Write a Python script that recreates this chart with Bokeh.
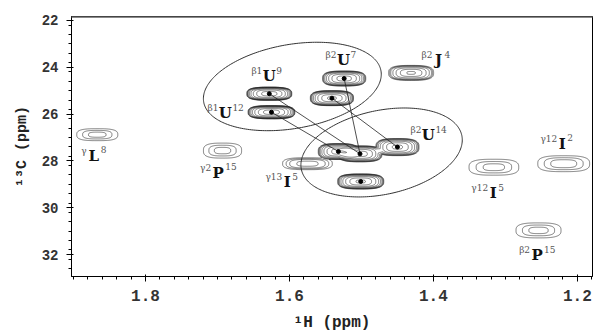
import numpy as np
from bokeh.plotting import figure
from bokeh.models import Range1d, Span, FixedTicker
from bokeh.core.properties import value
from bokeh.embed import file_html
from bokeh.resources import INLINE

# ---------------- data ----------------
# cross peaks: 1H shift (ppm), 13C shift (ppm), relative intensity, base-contour widths (ppm)
peak_h = [1.867, 1.693, 1.628, 1.625, 1.524, 1.541, 1.431, 1.450, 1.532, 1.502, 1.501, 1.575, 1.316, 1.219, 1.254]
peak_c = [26.88, 27.56, 25.13, 25.92, 24.48, 25.32, 24.24, 27.41, 27.60, 27.70, 28.88, 28.12, 28.27, 28.12, 30.97]
peak_int = [4.5, 4.5, 60, 60, 40, 50, 22, 35, 40, 40, 50, 8, 4.5, 5, 4.5]
peak_wh = [0.057, 0.053, 0.0625, 0.065, 0.060, 0.060, 0.0625, 0.060, 0.056, 0.061, 0.064, 0.069, 0.069, 0.072, 0.0625]
peak_wc = [0.51, 0.64, 0.56, 0.56, 0.64, 0.64, 0.64, 0.73, 0.68, 0.68, 0.64, 0.51, 0.68, 0.68, 0.64]

# connectivity lines (indices into the peak list)
link_from = [3, 2, 4, 5]
link_to = [8, 9, 9, 7]

# assignment labels
label_main = ["L", "P", "U", "U", "U", "J", "U", "I", "I", "I", "P"]
label_pre = ["γ", "γ2", "β1", "β1", "β2", "β2", "β2", "γ13", "γ12", "γ12", "β2"]
label_sup = ["8", "15", "9", "12", "7", "4", "14", "5", "5", "2", "15"]
label_h = [1.872, 1.699, 1.628, 1.689, 1.525, 1.393, 1.407, 1.603, 1.317, 1.221, 1.256]
label_c = [27.77, 28.50, 24.39, 25.97, 23.71, 23.71, 26.91, 28.92, 29.39, 27.26, 32.04]

# grouping ellipses (center h, center c)
ell_h = [1.596, 1.472]
ell_c = [24.82, 27.64]

x_ticks = [1.8, 1.6, 1.4, 1.2]
y_ticks = [22, 24, 26, 28, 30, 32]

# ---------------- figure ----------------
X0, X1 = 1.9028, 1.179
Y0, Y1 = 21.83, 32.94
W, H = 594, 336
BL, BR, BT, BB = 71, 2, 16, 60
fw, fh = W - BL - BR, H - BT - BB
pxh = fw / (X0 - X1)
pxc = fh / (Y1 - Y0)

p = figure(width=W, height=H, x_range=Range1d(X0, X1), y_range=Range1d(Y1, Y0),
           output_backend="svg", toolbar_location=None,
           min_border_left=BL, min_border_right=BR, min_border_top=BT, min_border_bottom=BB)
p.title.visible = False
p.xgrid.visible = False
p.ygrid.visible = False
p.outline_line_color = "black"
p.outline_line_width = 1
p.background_fill_color = "white"
p.border_fill_color = "white"

p.add_layout(Span(location=Y0, dimension="width", line_color="#8a8a8a", line_width=3))

# contour map built from the peak list (flat-topped cone shaped peaks)
xs = np.linspace(1.17, 1.92, 1000)
ys = np.linspace(21.7, 33.1, 600)
XX, YY = np.meshgrid(xs, ys)
Z = np.zeros_like(XX)
for h, c, a, wh, wc in zip(peak_h, peak_c, peak_int, peak_wh, peak_wc):
    k = 1 - 1.0 / a
    rx = wh / 2 / k
    ry = wc / 2 / k
    d = (np.abs((XX - h) / rx) ** 3 + np.abs((YY - c) / ry) ** 3) ** (1 / 3)
    Z += a * np.clip(1 - d, 0, None)
levels = [1, 2, 3, 5, 8, 12, 18, 27, 40]
p.contour(xs, ys, Z, levels, line_color="#1a1a1a", line_width=0.55)

# connectivity lines
p.segment(x0=[peak_h[i] for i in link_from], y0=[peak_c[i] for i in link_from],
          x1=[peak_h[i] for i in link_to], y1=[peak_c[i] for i in link_to],
          line_color="#222222", line_width=0.8)

# dots at the strong peaks
strong = [i for i, a in enumerate(peak_int) if a >= 25]
p.scatter([peak_h[i] for i in strong], [peak_c[i] for i in strong], size=4,
          fill_color="black", line_color="black")

# grouping ellipses
ell_a = [90, 82]
ell_b = [42, 42]
ell_ang = [10, 12]
t = np.linspace(0, 2 * np.pi, 240)
for hc, cc, a, b, ang in zip(ell_h, ell_c, ell_a, ell_b, ell_ang):
    th = np.deg2rad(ang)
    u = a * np.cos(t)
    v = b * np.sin(t)
    sx = u * np.cos(th) - v * np.sin(th)
    sy = u * np.sin(th) + v * np.cos(th)
    p.line(hc - sx / pxh, cc - sy / pxc, line_color="#333333", line_width=1)

# labels
half_w = {"U": 6, "P": 6, "L": 6, "J": 5, "I": 4}
pre_off = [-(half_w[m] + 1) for m in label_main]
sup_off = [half_w[m] + 1 for m in label_main]
p.text(label_h, label_c, text=label_main, text_font=value("DejaVu Serif"), text_font_style="bold",
       text_font_size="15px", text_align="center", text_baseline="middle", text_color="#111111")
p.text(label_h, label_c, text=label_pre, text_font=value("DejaVu Serif"),
       text_font_size="9px", text_align="right", text_baseline="middle", text_color="#555555",
       x_offset=pre_off, y_offset=-5)
p.text(label_h, label_c, text=label_sup, text_font=value("DejaVu Serif"),
       text_font_size="9px", text_align="left", text_baseline="middle", text_color="#555555",
       x_offset=sup_off, y_offset=-6)

# axes
p.xaxis.ticker = FixedTicker(ticks=x_ticks, minor_ticks=list(np.round(np.arange(1.18, 1.92, 0.02), 2)))
p.yaxis.ticker = FixedTicker(ticks=y_ticks, minor_ticks=list(np.round(np.arange(21.8, 33.0, 0.4), 1)))
for ax in (p.xaxis, p.yaxis):
    ax.axis_line_color = "black"
    ax.axis_line_width = 1
    ax.major_tick_line_color = "black"
    ax.minor_tick_line_color = "black"
    ax.major_label_text_font = "Liberation Mono"
    ax.major_label_text_font_style = "bold"
    ax.major_label_text_color = "#333333"
    ax.axis_label_text_font = "Liberation Mono"
    ax.axis_label_text_font_style = "bold"
    ax.axis_label_text_color = "#222222"
    ax.major_tick_in = 2
    ax.major_tick_out = 5
    ax.minor_tick_in = 0
    ax.minor_tick_out = 3
p.xaxis.major_label_text_font_size = "16px"
p.yaxis.major_label_text_font_size = "14px"
p.xaxis.axis_label = "¹H (ppm)"
p.yaxis.axis_label = "¹³C (ppm)"
p.xaxis.axis_label_text_font_size = "16px"
p.yaxis.axis_label_text_font_size = "15px"
p.xaxis.major_label_standoff = 8
p.xaxis.axis_label_standoff = 10
p.yaxis.major_label_standoff = 8
p.yaxis.axis_label_standoff = 8

open("out.html", "w").write(file_html(p, INLINE))
